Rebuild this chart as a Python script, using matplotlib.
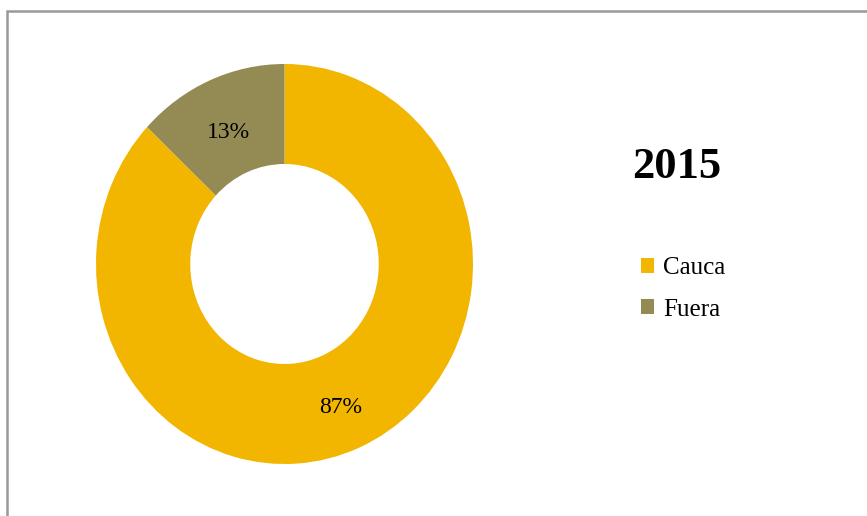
import matplotlib.pyplot as plt
from matplotlib.patches import Rectangle

labels = ['Cauca', 'Fuera']
values = [87, 13]
colors = ['#F2B500', '#948A54']
year = '2015'

plt.rcParams['font.family'] = ['Liberation Serif', 'DejaVu Serif']

fig = plt.figure(figsize=(8.67, 5.16), dpi=100)
W, H = 867, 516

# chart frame (runs off the right and bottom edge)
fig.patches.append(Rectangle((6.5 / W, -0.1), 1.2, 1.1 - 10.5 / H,
                             transform=fig.transFigure, fill=False,
                             edgecolor='#999999', linewidth=1.8))

ax = fig.add_axes([96 / W, 52 / H, 377 / W, 400 / H])
wedges, texts, autotexts = ax.pie(values, colors=colors, startangle=90,
                                  counterclock=False, radius=1,
                                  autopct='%1.0f%%', pctdistance=0.75,
                                  wedgeprops=dict(width=0.5, linewidth=0),
                                  textprops=dict(fontsize=17, color='black'))
# labels sit a little lower than the ring centre line
for t in autotexts:
    x, y = t.get_position()
    t.set_position((x, y - 0.03))
ax.set_aspect('auto')
ax.set_xlim(-1, 1)
ax.set_ylim(-1, 1)
ax.axis('off')

fig.text(677 / W, 1 - 167 / H, year, fontsize=32, fontweight='bold',
         ha='center', va='center')

fig.legend(wedges, labels, loc='center left',
           bbox_to_anchor=(641 / W, 1 - 289 / H), frameon=False,
           fontsize=18, handlelength=0.52, handleheight=0.52,
           handletextpad=0.36, labelspacing=0.77, borderpad=0,
           borderaxespad=0)

fig.savefig('out.png', dpi=100)
